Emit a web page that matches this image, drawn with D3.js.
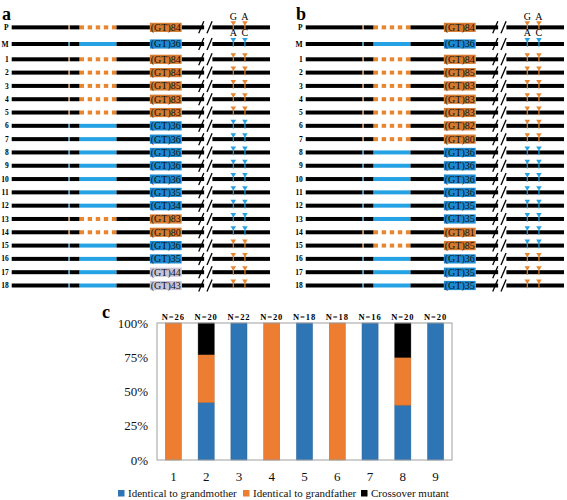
<!DOCTYPE html>
<html><head><meta charset="utf-8">
<script src="https://cdnjs.cloudflare.com/ajax/libs/d3/7.8.5/d3.min.js"></script>
<style>body{margin:0;background:#fff}svg{display:block}</style>
</head><body>
<svg id="c" width="567" height="500"></svg>
<script>
// ---- Data: panel a ----
const rowLabels = ["P","M","1","2","3","4","5","6","7","8","9","10","11","12","13","14","15","16","17","18"];
const gtA   = [84,36,84,84,85,83,83,36,36,36,36,36,35,34,83,80,36,35,44,43];
const gtTypeA = ["o","b","o","o","o","o","o","b","b","b","b","b","b","b","o","o","b","b","g","g"];
const segA  = ["o","b","o","o","o","o","o","b","b","b","b","b","b","b","o","o","b","b","b","b"];
const snpA  = ["o","b","o","o","o","o","o","b","b","b","b","b","b","b","b","b","o","o","o","o"];
// ---- Data: panel b ----
const gtB   = [84,36,84,85,83,83,83,82,80,36,36,36,36,35,35,81,85,36,35,35];
const gtTypeB = ["o","b","o","o","o","o","o","o","o","b","b","b","b","b","b","o","o","b","b","b"];
const segB  = ["o","b","o","o","o","o","o","o","o","b","b","b","b","b","b","o","o","b","b","b"];
const snpB  = ["o","b","o","o","o","o","o","o","o","b","b","b","b","b","b","b","b","o","o","o"];
const snpLetters = {P:["G","A"], M:["A","C"]};
// ---- Data: panel c ----
const groups = ["1","2","3","4","5","6","7","8","9"];
const nLabels = [26,20,22,20,18,18,16,20,20];
const grandmother = [0,0.42,1,0,1,0,1,0.40,1];
const grandfather = [1,0.35,0,1,0,1,0,0.35,0];
const crossover   = [0,0.23,0,0,0,0,0,0.25,0];
const yTicks = [0,0.25,0.5,0.75,1];
const seriesNames = ["Identical to grandmother","Identical to grandfather","Crossover mutant"];

const svg = d3.select("#c");
const serif = "Liberation Serif";
const col = {
  box:{o:"#D67A30", b:"#1C8AD0", g:"#C8C4D8"},
  seg:{o:"#E8862F", b:"#25A2E3"},
  snp:{o:"#E8862F", b:"#25A2E3"}
};

// row position index: P and M above numbered rows
const rowIdx = rowLabels.map((d,i)=> i===0 ? -2.4 : i===1 ? -1.15 : i-2);
const y = d3.scaleLinear().domain([0,17]).range([59.3,285.5]);

function drawPanel(offset, letter, gt, gtType, seg, snp){
  const g = svg.append("g");
  const x = d3.scaleLinear().domain([0,100]).range([offset+11.7, offset+270]);
  const px = v => x(v);
  const P = {start:0, tick:22, tickW:0.55, segS:26.3, segE:40.5, boxS:53.5, boxE:65.8, brk1:73.3, brk2:76.5, s1:85.8, s2:90.3, end:100};
  const lw = 4;
  g.append("text").attr("x",offset+2).attr("y",20).attr("font-family",serif)
    .attr("font-weight","bold").attr("font-size",18).text(letter);
  rowLabels.forEach((lab,i)=>{
    const yy = y(rowIdx[i]);
    const r = g.append("g");
    r.append("text").attr("x",offset+8.7).attr("y",yy+2.6).attr("text-anchor","end")
      .attr("font-family",serif).attr("font-weight","bold").attr("font-size",7.5).text(lab);
    const blk = (a,b)=> r.append("rect").attr("x",px(a)).attr("y",yy-lw/2).attr("width",px(b)-px(a)).attr("height",lw).attr("fill","#000");
    blk(P.start,P.tick); blk(P.tick+P.tickW,P.segS); blk(P.segE,P.boxS); blk(P.boxE,P.brk1+1.2); blk(P.brk2+1.2,P.end);
    r.append("rect").attr("x",px(P.tick)).attr("y",yy-lw/2).attr("width",px(P.tick+P.tickW)-px(P.tick)).attr("height",lw).attr("fill",col.seg[seg[i]]);
    if(seg[i]==="b"){
      r.append("rect").attr("x",px(P.segS)).attr("y",yy-lw/2).attr("width",px(P.segE)-px(P.segS)).attr("height",lw).attr("fill",col.seg.b);
    } else {
      const w = px(P.segE)-px(P.segS), dw = 4.4, gap=(w-5*dw)/4;
      for(let k=0;k<5;k++) r.append("rect").attr("x",px(P.segS)+k*(dw+gap)).attr("y",yy-lw/2).attr("width",dw).attr("height",lw).attr("fill",col.seg.o);
    }
    r.append("rect").attr("x",px(P.boxS)).attr("y",yy-4.6).attr("width",px(P.boxE)-px(P.boxS)).attr("height",9.2).attr("fill",col.box[gtType[i]]);
    r.append("text").attr("x",(px(P.boxS)+px(P.boxE))/2).attr("y",yy+3.5).attr("text-anchor","middle")
      .attr("font-family",serif).attr("font-size",10).attr("fill","#111").text("(GT)"+gt[i]);
    [P.brk1,P.brk2].forEach(b=>{
      r.append("line").attr("x1",px(b)-2.3).attr("y1",yy+6).attr("x2",px(b)+2.8).attr("y2",yy-6)
        .attr("stroke","#000").attr("stroke-width",1.3);
    });
    [P.s1,P.s2].forEach((s,k)=>{
      const cx = px(s), c = col.snp[snp[i]];
      r.append("path").attr("d",`M${cx-2.8},${yy-6}L${cx+2.8},${yy-6}L${cx},${yy-1.5}Z`).attr("fill",c);
      r.append("rect").attr("x",cx-0.6).attr("y",yy-2.5).attr("width",1.2).attr("height",5.2).attr("fill",c);
      if(snpLetters[lab]) r.append("text").attr("x",cx).attr("y",yy-7.5).attr("text-anchor","middle")
        .attr("font-family",serif).attr("font-size",10).text(snpLetters[lab][k]);
    });
  });
}
drawPanel(0,"a",gtA,gtTypeA,segA,snpA);
drawPanel(294,"b",gtB,gtTypeB,segB,snpB);

// ---- Panel c ----
const cx0=157, cx1=452, cy0=460, cy1=323;
const xb = d3.scaleBand().domain(groups).range([cx0,cx1]).paddingInner(0.51).paddingOuter(0.255);
const yc = d3.scaleLinear().domain([0,1]).range([cy0,cy1]);
const colors = ["#2E75B6","#ED7D31","#000000"];
const table = groups.map((g,i)=>({g, a:grandmother[i], b:grandfather[i], c:crossover[i]}));
const stack = d3.stack().keys(["a","b","c"])(table);
const gc = svg.append("g");
gc.append("text").attr("x",102).attr("y",318).attr("font-family",serif).attr("font-weight","bold").attr("font-size",18).text("c");
stack.forEach((s,si)=>{
  gc.selectAll(null).data(s.filter(d=>d[1]-d[0]>0)).join("rect")
    .attr("x",d=>xb(d.data.g)).attr("width",xb.bandwidth())
    .attr("y",d=>yc(d[1])).attr("height",d=>yc(d[0])-yc(d[1]))
    .attr("fill",colors[si]).attr("stroke",d3.color(colors[si]).darker(0.6)).attr("stroke-width",0.5);
});
gc.append("rect").attr("x",cx0).attr("y",cy1).attr("width",cx1-cx0).attr("height",cy0-cy1)
  .attr("fill","none").attr("stroke","#a0a0a0").attr("stroke-width",1);
const ya = d3.axisLeft(yc).tickValues(yTicks).tickFormat(d3.format(".0%")).tickSize(0).tickPadding(9);
gc.append("g").attr("transform",`translate(${cx0},0)`).call(ya)
  .call(g=>g.select(".domain").remove())
  .selectAll("text").attr("font-family",serif).attr("font-size",13).attr("fill","#111");
const xa = d3.axisBottom(xb).tickSize(0).tickPadding(12);
gc.append("g").attr("transform",`translate(0,${cy0})`).call(xa)
  .call(g=>g.select(".domain").remove())
  .selectAll("text").attr("font-family",serif).attr("font-size",13).attr("fill","#111");
gc.selectAll(null).data(groups).join("text")
  .attr("x",d=>xb(d)+xb.bandwidth()/2).attr("y",cy1-3).attr("text-anchor","middle")
  .attr("font-family",serif).attr("font-weight","bold").attr("font-size",8.5).attr("letter-spacing",0.9)
  .text((d,i)=>"N="+nLabels[i]);
const legX = [118,243,361];
seriesNames.forEach((n,i)=>{
  gc.append("rect").attr("x",legX[i]).attr("y",490).attr("width",6.5).attr("height",6.5).attr("fill",colors[i]);
  gc.append("text").attr("x",legX[i]+10).attr("y",497).attr("font-family",serif).attr("font-size",11).attr("fill","#111").text(n);
});
</script>
</body></html>
